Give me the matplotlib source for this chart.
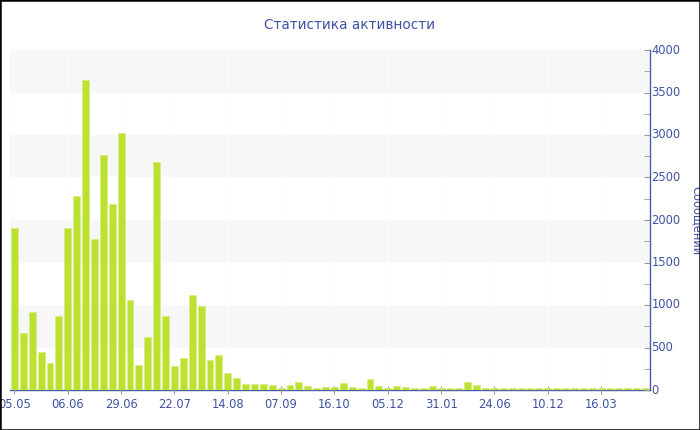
import matplotlib
matplotlib.use("Agg")
import matplotlib.pyplot as plt
from matplotlib.ticker import MultipleLocator
from matplotlib.patches import Rectangle

# ---- data ----
messages = [1902, 675, 922, 451, 322, 871, 1902, 2286, 3643, 1776,
            2769, 2184, 3020, 1055, 294, 624, 2686, 871, 282, 380,
            1118, 992, 353, 412, 196, 145, 67, 67, 67, 59,
            20, 59, 94, 43, 25, 35, 35, 78, 31, 27,
            133, 47, 27, 47, 35, 25, 27, 47, 20, 20,
            20, 94, 63, 27, 20, 18, 25, 25, 18, 18,
            18, 18, 25, 18, 18, 18, 18, 18, 18, 18,
            18, 18]
tick_labels = ["05.05", "06.06", "29.06", "22.07", "14.08", "07.09",
               "16.10", "05.12", "31.01", "24.06", "10.12", "16.03"]
label_every = 6
title = "Статистика активности"
ylabel = "Сообщений"

# ---- style ----
text_color = "#3f52a2"
axis_color = "#4a5ba8"
bar_color = "#bde133"

fig = plt.figure(figsize=(7, 4.3), dpi=100)
ax = fig.add_axes([10 / 700, 40 / 430, 640 / 700, 340 / 430])

n = len(messages)
x = list(range(n))
ax.set_xlim(-0.5, n - 0.5)
ax.set_ylim(0, 4000)

# alternating bands
for lo in range(0, 4000, 1000):
    ax.axhspan(lo + 500, lo + 1000, color="#f7f7f7", zorder=0, lw=0)

tick_pos = x[::label_every][:len(tick_labels)]
for tp in tick_pos:
    ax.axvline(tp, color="#fcfcfc", lw=0.8, zorder=0.5)

ax.bar(x, messages, width=0.78, color=bar_color, edgecolor="#d6ee7e",
       linewidth=0.6, zorder=2)

# spines
for s in ["left", "top"]:
    ax.spines[s].set_visible(False)
ax.spines["bottom"].set_color(axis_color)
ax.spines["bottom"].set_linewidth(1.0)
ax.spines["right"].set_color(axis_color)
ax.spines["right"].set_linewidth(1.0)
ax.spines["bottom"].set_zorder(1.5)

ax.set_xticks(tick_pos)
ax.set_xticklabels(tick_labels)
ax.tick_params(axis="x", direction="inout", length=6, color="#999999",
               labelcolor=text_color, labelsize=8.3, pad=3)

ax.yaxis.tick_right()
ax.yaxis.set_label_position("right")
ax.yaxis.set_major_locator(MultipleLocator(500))
ax.yaxis.set_minor_locator(MultipleLocator(250))
ax.tick_params(axis="y", which="major", direction="in", length=4,
               color="#999999", labelcolor=text_color, labelsize=8.3, pad=1)
ax.tick_params(axis="y", which="minor", direction="in", length=4,
               color="#999999")
for lab in ax.get_yticklabels():
    lab.set_verticalalignment("center")

fig.text(349 / 700, 1 - 25 / 430, title, ha="center", va="center",
         fontsize=9.8, color=text_color)
fig.text(697 / 700, 1 - 221 / 430, ylabel, ha="center", va="center",
         rotation=270, fontsize=8.3, color=text_color)

fig.patches.append(Rectangle((0, 0), 1, 1, transform=fig.transFigure,
                             fill=False, edgecolor="black", linewidth=1.8,
                             zorder=10))

fig.savefig("out.png", dpi=100)
